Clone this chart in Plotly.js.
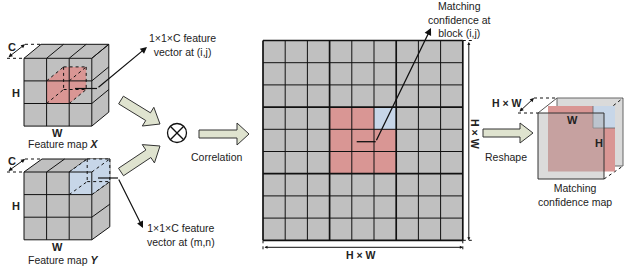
<!DOCTYPE html>
<html><head><meta charset="utf-8">
<script src="https://cdn.plot.ly/plotly-3.0.1.min.js"></script>
<style>html,body{margin:0;padding:0;background:#fff}</style>
</head><body><div id="chart" style="width:624px;height:269px"></div>
<script>
// ---- data ----
const gridSize = 9;                 // H×W blocks per side of the correlation map
const matchRows = [3, 4, 5];        // neighbourhood rows around block (i,j)
const matchCols = [3, 4, 5];        // neighbourhood cols around block (i,j)
const matchCell = [3, 5];           // highlighted block (row, col)
const cubeCells = 3;                // H = W = 3 in the feature maps
const cubeXCell = [1, 1];           // (i,j) in feature map X
const cubeYCell = [0, 2];           // (m,n) in feature map Y
const cubeLabels = ['C', 'H', 'W'];
const mapNames = ['Feature map <b><i>X</i></b>', 'Feature map <b><i>Y</i></b>'];
const vectorLabels = ['1×1×C feature<br>vector at (i,j)', '1×1×C feature<br>vector at (m,n)'];
const stepLabels = ['Correlation', 'Reshape'];
const outLabels = ['Matching<br>confidence at<br>block (i,j)', 'Matching<br>confidence map'];
const dimLabel = 'H × W';

// ---- style ----
const GRAY = '#c0c0c0', RED = '#d99694', BLUE = '#c7d6e8', ARROW = '#dfe3cf', INK = '#111';
const FONT = 'Liberation Sans, Arial, sans-serif';
const shapes = [], annotations = [];

function line(x0, y0, x1, y1, o = {}) {
  shapes.push({type: 'line', x0, y0, x1, y1, layer: 'above',
    line: {color: o.color || INK, width: o.width || 1, dash: o.dash || 'solid'}});
}
function poly(pts, fill, o = {}) {
  const p = 'M ' + pts.map(q => q[0] + ',' + q[1]).join(' L ') + ' Z';
  shapes.push({type: 'path', path: p, fillcolor: fill, layer: 'above',
    line: {color: o.color || 'rgba(0,0,0,0)', width: o.width === undefined ? 0 : o.width, dash: o.dash || 'solid'}});
}
function rect(x0, y0, x1, y1, fill, o = {}) {
  poly([[x0, y0], [x1, y0], [x1, y1], [x0, y1]], fill, o);
}
function text(x, y, t, o = {}) {
  annotations.push({x, y, text: t, showarrow: false, textangle: o.angle || 0,
    xanchor: o.xa || 'center', yanchor: 'middle',
    font: {family: FONT, size: o.size || 10.5, color: o.color || '#222'}});
}
function arrow(x0, y0, x1, y1, o = {}) {
  annotations.push({x: x1, y: y1, ax: x0, ay: y0, axref: 'x', ayref: 'y', xref: 'x', yref: 'y',
    text: '', showarrow: true, arrowhead: o.head || 2, arrowsize: o.size || 1.1,
    arrowwidth: o.width || 1.2, arrowcolor: INK, standoff: 0, startstandoff: 0,
    arrowside: o.both ? 'end+start' : 'end', startarrowhead: o.head || 2, startarrowsize: o.size || 1.1});
}
function blockArrow(tx, ty, hx, hy, shaftW, headW, headL) {
  const L = Math.hypot(hx - tx, hy - ty), ux = (hx - tx) / L, uy = (hy - ty) / L;
  const nx = -uy, ny = ux;
  const bx = hx - ux * headL, by = hy - uy * headL;
  const s = shaftW / 2, h = headW / 2;
  poly([[tx + nx * s, ty + ny * s], [bx + nx * s, by + ny * s], [bx + nx * h, by + ny * h], [hx, hy],
        [bx - nx * h, by - ny * h], [bx - nx * s, by - ny * s], [tx - nx * s, ty - ny * s]],
       ARROW, {color: '#333', width: 1});
}

// ---- feature-map cubes ----
function cube(ox, oy, cell, dx, dy, hl, hlColor) {
  const n = cubeCells, S = n * cell;
  rect(ox, oy, ox + S, oy + S, GRAY);
  poly([[ox, oy], [ox + dx, oy + dy], [ox + S + dx, oy + dy], [ox + S, oy]], GRAY);
  poly([[ox + S, oy], [ox + S + dx, oy + dy], [ox + S + dx, oy + S + dy], [ox + S, oy + S]], GRAY);
  for (let k = 0; k <= n; k++) {
    line(ox + k * cell, oy, ox + k * cell + dx, oy + dy);
    line(ox + S, oy + k * cell, ox + S + dx, oy + k * cell + dy);
  }
  line(ox + dx, oy + dy, ox + S + dx, oy + dy);
  line(ox + S + dx, oy + dy, ox + S + dx, oy + S + dy);
  // highlighted 1x1xC vector
  const fx = ox + hl[1] * cell, fy = oy + hl[0] * cell, s = cell;
  poly([[fx, fy + s], [fx, fy], [fx + dx, fy + dy], [fx + s + dx, fy + dy], [fx + s + dx, fy + s + dy], [fx + s, fy + s]], hlColor);
  for (let k = 0; k <= n; k++) {
    line(ox + k * cell, oy, ox + k * cell, oy + S);
    line(ox, oy + k * cell, ox + S, oy + k * cell);
  }
  const d = {dash: 'dot', width: 1};
  line(fx + dx, fy + dy, fx + s + dx, fy + dy, d);
  line(fx + dx, fy + s + dy, fx + s + dx, fy + s + dy, d);
  line(fx + dx, fy + dy, fx + dx, fy + s + dy, d);
  line(fx + s + dx, fy + dy, fx + s + dx, fy + s + dy, d);
  line(fx, fy, fx + dx, fy + dy, d);
  line(fx + s, fy, fx + s + dx, fy + dy, d);
  line(fx, fy + s, fx + dx, fy + s + dy, d);
  line(fx + s, fy + s, fx + s + dx, fy + s + dy, d);
  // C dimension
  arrow(ox - 17, oy, ox + 1, oy + dy, {both: true, size: 0.8, width: 1});
  line(ox + 1, oy + dy, ox + dx, oy + dy, {dash: 'dot'});
  line(ox - 17, oy, ox, oy, {dash: 'dot'});
  text(ox - 12, oy - 11, '<b>' + cubeLabels[0] + '</b>', {size: 11});
  text(ox - 8, oy + S / 2 + 0.5, '<b>' + cubeLabels[1] + '</b>', {size: 11});
  text(ox + S / 2 - 0.5, oy + S + 7, '<b>' + cubeLabels[2] + '</b>', {size: 11});
  return {cx: fx + s / 2 + dx / 2, cy: fy + s / 2 + dy / 2};
}
const cX = cube(24, 58.3, 22.6, 17, -14, cubeXCell, RED);
text(63, 143.5, mapNames[0]);
const cY = cube(24, 172, 22.6, 18, -13, cubeYCell, BLUE);
text(63, 259.5, mapNames[1]);

// vector pointers
line(75, 88.5, 97, 88.5, {width: 1.2});
arrow(97, 88.5, 147, 47);
text(182, 45, vectorLabels[0]);
line(98, 178, 118, 178, {width: 1.2});
arrow(118, 178, 143, 228);
text(181, 234.5, vectorLabels[1]);

// correlation operator
blockArrow(121, 100, 160, 124, 9, 22, 14);
blockArrow(121, 172, 160, 146, 9, 22, 14);
shapes.push({type: 'circle', x0: 167.5, y0: 123.5, x1: 186.5, y1: 142.5, layer: 'above', line: {color: INK, width: 1.3}, fillcolor: '#fff'});
line(177 - 6.7, 133 - 6.7, 177 + 6.7, 133 + 6.7, {width: 1.3});
line(177 - 6.7, 133 + 6.7, 177 + 6.7, 133 - 6.7, {width: 1.3});
blockArrow(199, 134, 249, 134, 8, 22, 12);
text(217, 157, stepLabels[0]);

// ---- correlation map (heatmap) ----
const gx0 = 263, gy0 = 40.5, gc = 22.2;
const xs = [], ys = [], z = [];
for (let c = 0; c < gridSize; c++) xs.push(gx0 + (c + 0.5) * gc);
for (let r = 0; r < gridSize; r++) {
  ys.push(gy0 + (r + 0.5) * gc);
  const row = [];
  for (let c = 0; c < gridSize; c++) {
    let v = (matchRows.includes(r) && matchCols.includes(c)) ? 1 : 0;
    if (r === matchCell[0] && c === matchCell[1]) v = 2;
    row.push(v);
  }
  z.push(row);
}
const GW = gridSize * gc;
for (let k = 0; k <= gridSize; k++) {
  const w = (k % 3 === 0) ? 1.7 : 1;
  line(gx0 + k * gc, gy0, gx0 + k * gc, gy0 + GW, {width: w});
  line(gx0, gy0 + k * gc, gx0 + GW, gy0 + k * gc, {width: w});
}
// pointer to block (i,j)
line(356.7, 141.7, 375.7, 141.7, {width: 1.3});
arrow(375.7, 141.7, 431, 28, {width: 1.3});
text(459, 19, outLabels[0]);
// dimensions
const vx = gx0 + GW + 6;
arrow(vx, gy0, vx, gy0 + GW, {both: true, size: 0.6, width: 1});
line(gx0 + GW, gy0, vx + 3, gy0, {dash: 'dot'});
line(gx0 + GW, gy0 + GW, vx + 6, gy0 + GW, {dash: 'dot'});
text(vx + 5.5, gy0 + GW / 2 - 6, '<b>' + dimLabel + '</b>', {angle: 90});
const hy = gy0 + GW + 7;
arrow(gx0, hy, gx0 + GW, hy, {both: true, size: 0.6, width: 1});
line(gx0, gy0 + GW, gx0, hy + 3, {dash: 'dot'});
line(gx0 + GW, gy0 + GW, gx0 + GW, hy + 3, {dash: 'dot'});
text(gx0 + GW / 2 - 2, hy + 8, '<b>' + dimLabel + '</b>');

// ---- reshape ----
blockArrow(483, 133, 533, 133, 8, 20, 13);
text(506, 157, stepLabels[1]);

// ---- matching confidence map ----
rect(557, 98, 623, 166, '#dadada', {color: '#666', width: 1});
line(538, 113, 557, 98, {color: '#555'});
line(604, 113, 623, 98, {dash: 'dot'});
line(604, 179, 623, 166, {dash: 'dot'});
rect(548, 106, 615, 171.5, RED);
rect(593, 106, 615, 128, BLUE);
line(593, 106, 593, 128, {color: '#666', width: 0.8});
line(593, 128, 615, 128, {color: '#666', width: 0.8});
rect(538, 113, 604, 179, 'rgba(175,175,175,0.45)', {color: '#333', width: 1});
arrow(518, 113, 534, 98, {both: true, size: 0.8, width: 1});
line(534, 98, 557, 98, {dash: 'dot'});
line(518, 113, 538, 113, {dash: 'dot'});
text(507, 103, '<b>' + dimLabel + '</b>');
text(572, 120, '<b>W</b>', {size: 11});
text(599, 143, '<b>H</b>', {size: 11});
text(575, 194.5, outLabels[1]);

const heat = {type: 'heatmap', x: xs, y: ys, z: z, zmin: 0, zmax: 2, showscale: false, hoverinfo: 'skip',
  colorscale: [[0, GRAY], [0.33, GRAY], [0.34, RED], [0.66, RED], [0.67, BLUE], [1, BLUE]]};

Plotly.newPlot('chart', [heat], {
  width: 624, height: 269, margin: {l: 0, r: 0, t: 0, b: 0},
  paper_bgcolor: '#fff', plot_bgcolor: '#fff', showlegend: false,
  xaxis: {range: [0, 624], visible: false, fixedrange: true},
  yaxis: {range: [269, 0], visible: false, fixedrange: true},
  shapes, annotations
}, {staticPlot: true});
</script></body></html>
